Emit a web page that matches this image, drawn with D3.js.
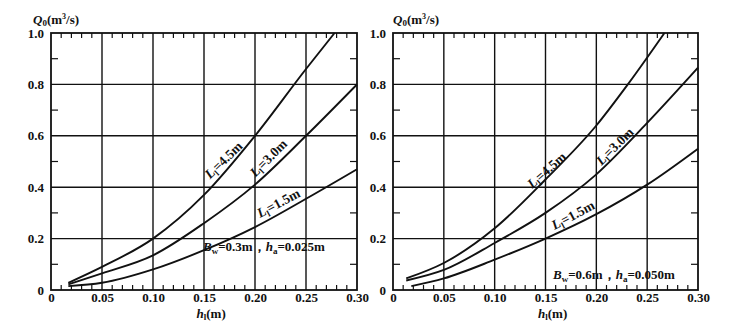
<!DOCTYPE html>
<html>
<head>
<meta charset="utf-8">
<script src="https://cdn.jsdelivr.net/npm/d3@7"></script>
<style>
  html, body { margin: 0; padding: 0; background: #fff; }
  svg { display: block; }
  text { font-family: "Liberation Serif", "Times New Roman", serif; font-weight: bold; fill: #111; }
</style>
</head>
<body>
<svg id="chart" width="736" height="330"></svg>
<script>
// ---------- data ----------
const xTickValues = [0, 0.05, 0.10, 0.15, 0.20, 0.25, 0.30];
const yTickValues = [0, 0.2, 0.4, 0.6, 0.8, 1.0];

// left panel: Bw = 0.3 m, ha = 0.025 m
const leftL45_h = [0.017, 0.05, 0.10, 0.15, 0.20, 0.25, 0.278];
const leftL45_q = [0.028, 0.09, 0.20, 0.37, 0.60, 0.86, 1.00];
const leftL30_h = [0.017, 0.05, 0.10, 0.15, 0.20, 0.25, 0.30];
const leftL30_q = [0.022, 0.065, 0.135, 0.26, 0.41, 0.60, 0.80];
const leftL15_h = [0.017, 0.05, 0.10, 0.15, 0.20, 0.25, 0.30];
const leftL15_q = [0.015, 0.028, 0.08, 0.155, 0.245, 0.355, 0.47];

// right panel: Bw = 0.6 m, ha = 0.050 m
const rightL45_h = [0.013, 0.05, 0.10, 0.15, 0.20, 0.231, 0.267];
const rightL45_q = [0.045, 0.105, 0.24, 0.43, 0.64, 0.80, 1.00];
const rightL30_h = [0.013, 0.05, 0.10, 0.15, 0.20, 0.25, 0.30];
const rightL30_q = [0.037, 0.078, 0.183, 0.30, 0.45, 0.65, 0.865];
const rightL15_h = [0.018, 0.05, 0.10, 0.15, 0.20, 0.25, 0.30];
const rightL15_q = [0.015, 0.045, 0.118, 0.20, 0.295, 0.41, 0.55];

const curveNames = ["4.5", "3.0", "1.5"];
const annotationLeft = { bw: "0.3", ha: "0.025" };
const annotationRight = { bw: "0.6", ha: "0.050" };

// ---------- drawing ----------
const svg = d3.select("#chart");
svg.append("rect").attr("width", 736).attr("height", 330).attr("fill", "#fff");

const INK = "#111";
const yTop = 33, yBot = 290;

const panels = [
  {
    x0: 51, x1: 357,
    curves: [
      { h: leftL45_h, q: leftL45_q, name: curveNames[0], lab: [0.169, 0.506, -44] },
      { h: leftL30_h, q: leftL30_q, name: curveNames[1], lab: [0.213, 0.514, -45] },
      { h: leftL15_h, q: leftL15_q, name: curveNames[2], lab: [0.223, 0.339, -28] }
    ],
    note: annotationLeft, noteX: 203, noteY: 251, titleX: 33
  },
  {
    x0: 393, x1: 698,
    curves: [
      { h: rightL45_h, q: rightL45_q, name: curveNames[0], lab: [0.151, 0.467, -42] },
      { h: rightL30_h, q: rightL30_q, name: curveNames[1], lab: [0.218, 0.560, -45] },
      { h: rightL15_h, q: rightL15_q, name: curveNames[2], lab: [0.177, 0.292, -28] }
    ],
    note: annotationRight, noteX: 553, noteY: 279, titleX: 393
  }
];

panels.forEach((p, pi) => {
  const x = d3.scaleLinear().domain([0, 0.30]).range([p.x0, p.x1]);
  const y = d3.scaleLinear().domain([0, 1.0]).range([yBot, yTop]);
  const g = svg.append("g");

  // grid lines
  g.selectAll(".vg").data(xTickValues.slice(1, -1)).enter().append("line")
    .attr("x1", d => x(d)).attr("x2", d => x(d)).attr("y1", yTop).attr("y2", yBot)
    .attr("stroke", INK).attr("stroke-width", 1.4);
  g.selectAll(".hg").data(yTickValues.slice(1, -1)).enter().append("line")
    .attr("x1", p.x0).attr("x2", p.x1).attr("y1", d => y(d)).attr("y2", d => y(d))
    .attr("stroke", INK).attr("stroke-width", 1.4);

  // minor ticks
  const minorX = d3.range(1, 30).map(i => i / 100).filter((d, i) => (i + 1) % 5 !== 0);
  const minorY = [0.1, 0.3, 0.5, 0.7, 0.9];
  g.selectAll(".mb").data(minorX).enter().append("line")
    .attr("x1", d => x(d)).attr("x2", d => x(d)).attr("y1", yBot).attr("y2", yBot - 5)
    .attr("stroke", INK).attr("stroke-width", 1.2);
  g.selectAll(".mt").data(minorX).enter().append("line")
    .attr("x1", d => x(d)).attr("x2", d => x(d)).attr("y1", yTop).attr("y2", yTop + 5)
    .attr("stroke", INK).attr("stroke-width", 1.2);
  g.selectAll(".ml").data(minorY).enter().append("line")
    .attr("x1", p.x0).attr("x2", p.x0 + 7).attr("y1", d => y(d)).attr("y2", d => y(d))
    .attr("stroke", INK).attr("stroke-width", 1.2);
  g.selectAll(".mr").data(minorY).enter().append("line")
    .attr("x1", p.x1).attr("x2", p.x1 - 7).attr("y1", d => y(d)).attr("y2", d => y(d))
    .attr("stroke", INK).attr("stroke-width", 1.2);

  // frame
  g.append("rect").attr("x", p.x0).attr("y", yTop).attr("width", p.x1 - p.x0).attr("height", yBot - yTop)
    .attr("fill", "none").attr("stroke", INK).attr("stroke-width", 1.8);

  // axes labels
  const xAxis = d3.axisBottom(x).tickValues(xTickValues).tickSize(0).tickPadding(3)
    .tickFormat(d => d === 0 ? "0" : d.toFixed(2));
  const xa = g.append("g").attr("transform", `translate(0,${yBot})`).call(xAxis)
    .attr("font-family", null).attr("font-size", null);
  xa.select(".domain").remove();
  xa.selectAll("text").attr("font-size", 13).attr("fill", INK);

  const yAxis = d3.axisLeft(y).tickValues(yTickValues).tickSize(0).tickPadding(7)
    .tickFormat(d => d === 0 ? "0" : d.toFixed(1));
  const ya = g.append("g").attr("transform", `translate(${p.x0},0)`).call(yAxis)
    .attr("font-family", null).attr("font-size", null);
  ya.select(".domain").remove();
  ya.selectAll("text").attr("font-size", 13).attr("fill", INK);

  // curves
  const line = d3.line().x(d => x(d[0])).y(d => y(d[1])).curve(d3.curveMonotoneX);
  p.curves.forEach(c => {
    const pts = c.h.map((h, i) => [h, c.q[i]]);
    g.append("path").attr("d", line(pts)).attr("fill", "none")
      .attr("stroke", INK).attr("stroke-width", 1.9);
    const t = g.append("text")
      .attr("transform", `translate(${x(c.lab[0])},${y(c.lab[1])}) rotate(${c.lab[2]})`)
      .attr("text-anchor", "middle").attr("dy", "0.35em").attr("font-size", 13.5);
    t.append("tspan").attr("font-style", "italic").text("L");
    t.append("tspan").attr("font-size", 9).attr("dy", 3).text("l");
    t.append("tspan").attr("dy", -3).text("=" + c.name + "m");
  });

  // annotation
  const a = g.append("text").attr("x", p.noteX).attr("y", p.noteY).attr("font-size", 13);
  a.append("tspan").attr("font-style", "italic").text("B");
  a.append("tspan").attr("font-size", 9).attr("dy", 3).text("w");
  a.append("tspan").attr("dy", -3).text("=" + p.note.bw + "m，");
  a.append("tspan").attr("font-style", "italic").text("h");
  a.append("tspan").attr("font-size", 9).attr("dy", 3).text("a");
  a.append("tspan").attr("dy", -3).text("=" + p.note.ha + "m");

  // y title
  const yt = g.append("text").attr("x", p.titleX).attr("y", 24).attr("font-size", 13);
  yt.append("tspan").attr("font-style", "italic").text("Q");
  yt.append("tspan").attr("font-size", 9).attr("dy", 2).text("0");
  yt.append("tspan").attr("dy", -2).text("(m");
  yt.append("tspan").attr("font-size", 8).attr("dy", -5).text("3");
  yt.append("tspan").attr("dy", 5).text("/s)");

  // x title
  const xt = g.append("text").attr("x", x(0.157)).attr("y", 318).attr("font-size", 13)
    .attr("text-anchor", "middle");
  xt.append("tspan").attr("font-style", "italic").text("h");
  xt.append("tspan").attr("font-size", 9).attr("dy", 2).text("l");
  xt.append("tspan").attr("dy", -2).text("(m)");
});
</script>
</body>
</html>
